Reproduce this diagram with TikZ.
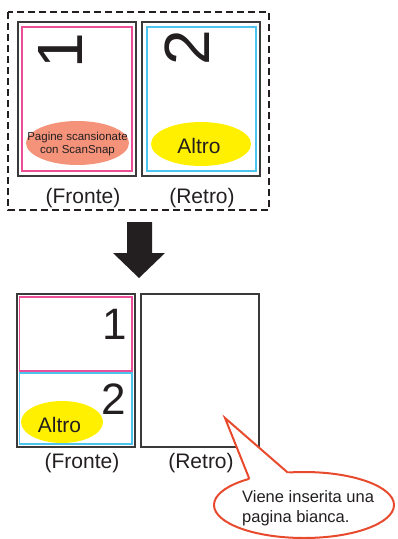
\documentclass[tikz,border=0pt]{standalone}
\usepackage{fontspec}
\setmainfont{Liberation Sans}
\usetikzlibrary{intersections}
\definecolor{pagegray}{HTML}{3A3A3A}
\definecolor{pinkline}{HTML}{EC4E98}
\definecolor{cyanline}{HTML}{4CC4EE}
\definecolor{salmon}{HTML}{F4937A}
\definecolor{yell}{HTML}{FFF000}
\definecolor{callred}{HTML}{E84A2E}
\definecolor{txt}{HTML}{231F20}
\tikzset{
  pagebox/.style={draw=pagegray,line width=1.3pt},
  pinkbox/.style={draw=pinkline,line width=1.2pt},
  cyanbox/.style={draw=cyanline,line width=1.2pt},
  lbl/.style={text=txt,inner sep=0pt,font=\fontsize{21}{24}\selectfont},
  bigdigit/.style={text=txt,inner sep=0pt,font=\fontsize{64}{70}\selectfont},
  middigit/.style={text=txt,inner sep=0pt,font=\fontsize{44}{50}\selectfont},
}
\begin{document}
\begin{tikzpicture}[x=1pt,y=-1pt]
\useasboundingbox (0,0) rectangle (397,539);
% dashed frame
\draw[line width=1.8pt,dash pattern=on 7pt off 4pt,color=txt] (8,12) rectangle (269,210);
% top pages
\draw[pagebox] (18,22) rectangle (136,176);
\draw[pinkbox] (22,27) rectangle (132,171);
\draw[pagebox] (142,22) rectangle (260,176);
\draw[cyanbox] (147,27) rectangle (256,171);
\node[bigdigit,rotate=90] (d1) at (60,51) {1};
\node[bigdigit,rotate=90] (d2) at (187,48) {2};
\fill[salmon] (77.5,143) ellipse [x radius=51.5, y radius=22];
\node[text=txt,inner sep=0pt,align=center,font=\fontsize{11.5}{13}\selectfont] (scan) at (77.5,144) {Pagine scansionate\\con ScanSnap};
\fill[yell] (201,144) ellipse [x radius=50, y radius=22];
\node[lbl,anchor=base] (alt1) at (199,153) {Altro};
\node[lbl,anchor=base] (fr1) at (83,203) {(Fronte)};
\node[lbl,anchor=base] (re1) at (202,203) {(Retro)};
% big arrow
\fill[txt] (127,222) -- (152,222) -- (152,253) -- (165,253) -- (139,278) -- (113,253) -- (127,253) -- cycle;
% bottom pages
\draw[pagebox] (17,294) rectangle (135,447);
\draw[pinkbox] (19.5,297) rectangle (132,371);
\draw[cyanbox] (19.5,373) rectangle (132,444);
\draw[pagebox] (141,294) rectangle (259,447);
\node[middigit] (e1) at (115,324) {1};
\node[middigit] (e2) at (114,399) {2};
\fill[yell] (62,422) ellipse [x radius=41, y radius=21];
\node[lbl,anchor=base] (alt2) at (59.5,432) {Altro};
\node[lbl,anchor=base] (fr2) at (82,468) {(Fronte)};
\node[lbl,anchor=base] (re2) at (201,468) {(Retro)};
% callout
\coordinate (tip) at (225,418);
\coordinate (lfar) at (265,518);
\coordinate (rfar) at (317,498);
\path[name path=ell] (304,505) ellipse [x radius=90, y radius=33];
\path[name path=lw] (tip) -- (lfar);
\path[name path=rw] (tip) -- (rfar);
\path[name intersections={of=ell and lw,by=L}];
\path[name intersections={of=ell and rw,by=R}];
\filldraw[fill=white,draw=callred,line width=2pt] (304,505) ellipse [x radius=90, y radius=33];
\fill[white] (tip) -- (lfar) -- (rfar) -- cycle;
\draw[callred,line width=2pt,line join=miter] (L) -- (tip) -- (R);
\node[text=txt,inner sep=0pt,anchor=base west,align=left,font=\fontsize{16.5}{19.5}\selectfont] (note) at (242,522) {Viene inserita una\\pagina bianca.};
\end{tikzpicture}
\end{document}
